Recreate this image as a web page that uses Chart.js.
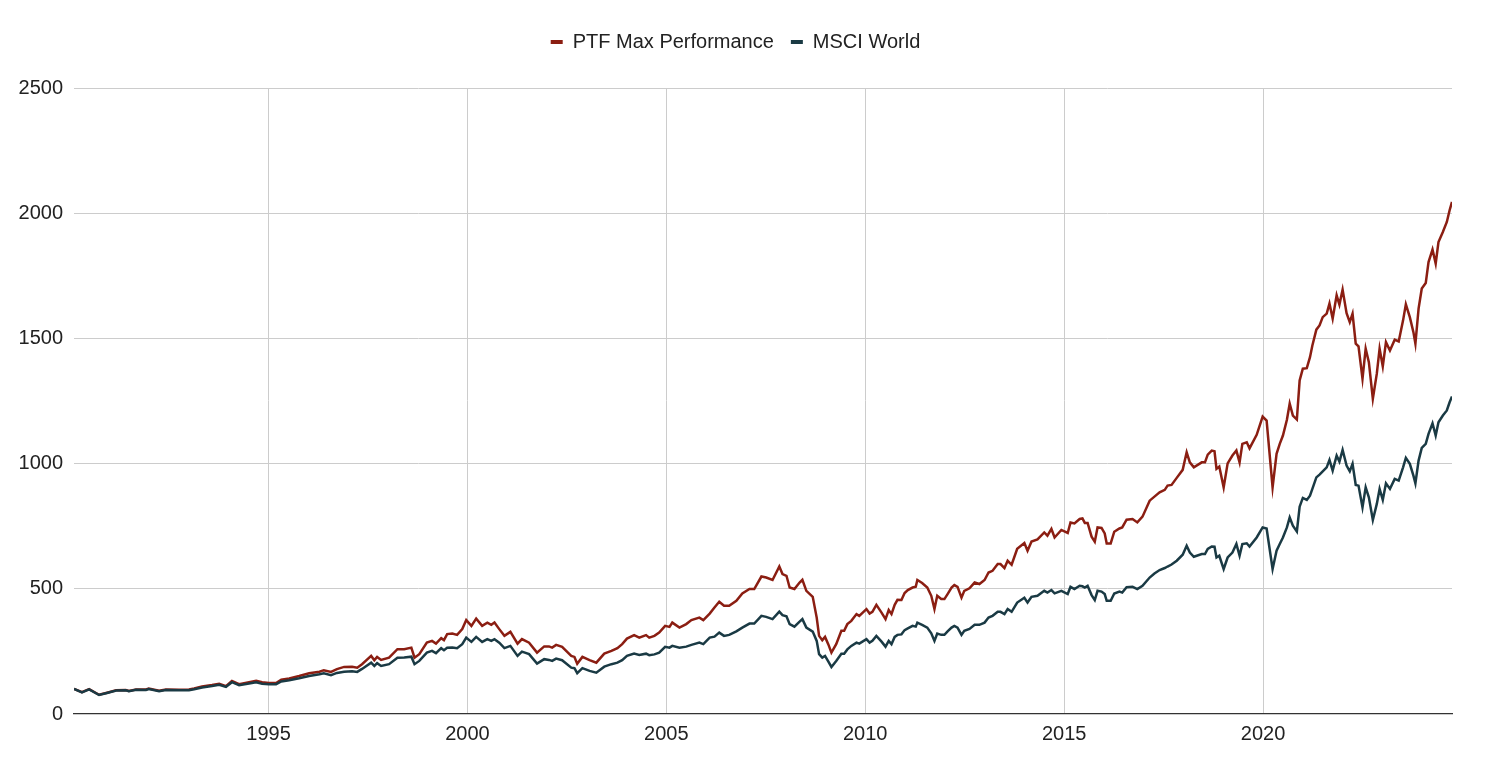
<!DOCTYPE html>
<html>
<head>
<meta charset="utf-8">
<title>PTF Max Performance vs MSCI World</title>
<script src="https://cdn.jsdelivr.net/npm/chart.js@4.4.1/dist/chart.umd.min.js"></script>
<style>
  html, body { margin: 0; padding: 0; background: #fff; }
  #wrap { width: 1487px; height: 762px; position: relative; }
</style>
</head>
<body>
<div id="wrap"><canvas id="perfChart"></canvas></div>
<script>
// Series labels and colours
const seriesNames = ['PTF Max Performance', 'MSCI World'];
const seriesColors = ['#8b1e12', '#1a3a44'];

// Dates as decimal years
const dates = [
  1990.11, 1990.31, 1990.49, 1990.74, 1990.94, 1991.17, 1991.41, 1991.49, 1991.67, 1991.92,
  1991.99, 1992.25, 1992.42, 1992.75, 1993.00, 1993.13, 1993.33, 1993.58, 1993.76, 1993.93,
  1994.08, 1994.26, 1994.51, 1994.69, 1994.84, 1995.01, 1995.19, 1995.32, 1995.52, 1995.77,
  1996.02, 1996.28, 1996.39, 1996.57, 1996.72, 1996.90, 1997.10, 1997.23, 1997.35, 1997.58,
  1997.66, 1997.73, 1997.83, 1998.03, 1998.24, 1998.41, 1998.59, 1998.67, 1998.79, 1998.98,
  1999.11, 1999.21, 1999.34, 1999.41, 1999.49, 1999.62, 1999.74, 1999.87, 1999.97, 2000.10,
  2000.22, 2000.37, 2000.50, 2000.60, 2000.68, 2000.80, 2000.93, 2001.08, 2001.26, 2001.37,
  2001.55, 2001.75, 2001.93, 2002.05, 2002.13, 2002.23, 2002.38, 2002.61, 2002.69, 2002.76,
  2002.89, 2003.07, 2003.24, 2003.44, 2003.62, 2003.77, 2003.89, 2004.01, 2004.19, 2004.32,
  2004.49, 2004.57, 2004.70, 2004.82, 2004.97, 2005.08, 2005.15, 2005.33, 2005.50, 2005.63,
  2005.83, 2005.93, 2006.09, 2006.21, 2006.33, 2006.45, 2006.58, 2006.76, 2006.91, 2007.09,
  2007.21, 2007.39, 2007.51, 2007.67, 2007.84, 2007.92, 2008.02, 2008.10, 2008.22, 2008.35,
  2008.42, 2008.52, 2008.68, 2008.78, 2008.84, 2008.92, 2008.99, 2009.07, 2009.15, 2009.27,
  2009.40, 2009.47, 2009.55, 2009.65, 2009.78, 2009.85, 2010.03, 2010.11, 2010.18, 2010.28,
  2010.41, 2010.51, 2010.59, 2010.66, 2010.74, 2010.81, 2010.91, 2010.99, 2011.07, 2011.19,
  2011.27, 2011.31, 2011.43, 2011.56, 2011.66, 2011.74, 2011.81, 2011.91, 2011.99, 2012.07,
  2012.17, 2012.24, 2012.32, 2012.42, 2012.49, 2012.62, 2012.75, 2012.87, 2013.00, 2013.10,
  2013.20, 2013.33, 2013.40, 2013.50, 2013.58, 2013.68, 2013.82, 2014.00, 2014.08, 2014.18,
  2014.33, 2014.50, 2014.58, 2014.68, 2014.76, 2014.93, 2015.09, 2015.16, 2015.26, 2015.39,
  2015.46, 2015.52, 2015.59, 2015.69, 2015.77, 2015.84, 2015.94, 2016.02, 2016.07, 2016.17,
  2016.26, 2016.39, 2016.46, 2016.57, 2016.72, 2016.84, 2016.97, 2017.15, 2017.27, 2017.40,
  2017.53, 2017.60, 2017.70, 2017.83, 2017.98, 2018.08, 2018.16, 2018.26, 2018.46, 2018.54,
  2018.61, 2018.71, 2018.78, 2018.83, 2018.90, 2019.01, 2019.11, 2019.23, 2019.33, 2019.41,
  2019.48, 2019.59, 2019.66, 2019.84, 2019.99, 2020.09, 2020.24, 2020.34, 2020.42, 2020.50,
  2020.60, 2020.67, 2020.75, 2020.85, 2020.92, 2021.00, 2021.10, 2021.18, 2021.24, 2021.34,
  2021.42, 2021.50, 2021.60, 2021.67, 2021.75, 2021.85, 2021.92, 2022.00, 2022.10, 2022.18,
  2022.25, 2022.33, 2022.40, 2022.50, 2022.58, 2022.66, 2022.76, 2022.86, 2022.93, 2023.01,
  2023.09, 2023.19, 2023.31, 2023.41, 2023.52, 2023.59, 2023.69, 2023.78, 2023.83, 2023.91,
  2023.99, 2024.09, 2024.16, 2024.26, 2024.34, 2024.41, 2024.52, 2024.62, 2024.69, 2024.75
];

// PTF Max Performance
const ptfValues = [
  100, 87, 99, 77, 85, 95, 96, 92, 98, 98,
  102, 93, 98, 97, 98, 102, 110, 116, 121, 111,
  132, 119, 127, 133, 127, 124, 124, 137, 142, 152,
  163, 169, 175, 168, 179, 188, 189, 185, 199, 232,
  215, 228, 216, 225, 259, 259, 265, 225, 239, 285,
  292, 281, 303, 295, 319, 321, 316, 339, 375, 352,
  381, 352, 365, 356, 365, 339, 312, 328, 281, 299,
  285, 245, 270, 270, 265, 276, 268, 232, 228, 201,
  228, 215, 205, 241, 252, 263, 279, 301, 315, 305,
  315, 305, 312, 325, 352, 348, 365, 345, 359, 375,
  385, 375, 401, 425, 448, 432, 432, 452, 481, 499,
  499, 549, 545, 535, 589, 559, 552, 505, 499, 525,
  536, 492, 468, 385, 312, 295, 308, 279, 245, 279,
  332, 332, 359, 372, 399, 392, 419, 401, 408, 436,
  405, 379, 415, 399, 436, 456, 455, 483, 495, 505,
  508, 535, 523, 505, 472, 419, 472, 459, 459, 479,
  505, 515, 508, 465, 492, 502, 525, 519, 535, 565,
  572, 599, 599, 583, 612, 596, 660, 683, 652, 689,
  697, 725, 712, 739, 705, 735, 723, 765, 761, 779,
  781, 763, 763, 708, 688, 745, 743, 721, 681, 681,
  728, 741, 745, 776, 779, 765, 788, 852, 868, 885,
  895, 912, 915, 943, 975, 1045, 1005, 985, 1005, 1005,
  1036, 1052, 1049, 979, 988, 905, 1001, 1032, 1052, 1005,
  1079, 1085, 1061, 1115, 1188, 1172, 905, 1039, 1079, 1112,
  1175, 1240, 1192, 1176, 1332, 1379, 1381, 1425, 1472, 1535,
  1552, 1585, 1599, 1639, 1579, 1672, 1635, 1695, 1601, 1565,
  1599, 1479, 1468, 1339, 1459, 1405, 1259, 1359, 1459, 1388,
  1485, 1452, 1495, 1488, 1572, 1636, 1585, 1525, 1479, 1619,
  1699, 1721, 1805, 1855, 1799, 1885, 1925, 1965, 2012, 2045
];

// MSCI World
const msciValues = [
  100, 86, 98, 76, 84, 94, 95, 91, 97, 96,
  100, 91, 96, 95, 95, 99, 106, 112, 117, 108,
  127, 115, 122, 127, 121, 119, 119, 130, 135, 143,
  152, 159, 163, 155, 164, 169, 171, 168, 180, 205,
  192, 203, 192, 199, 225, 226, 229, 199, 212, 245,
  252, 243, 263, 255, 265, 266, 263, 279, 305, 288,
  308, 288, 299, 292, 299, 285, 263, 272, 232, 249,
  239, 201, 219, 216, 212, 221, 215, 185, 183, 163,
  183, 172, 165, 189, 199, 205, 215, 232, 241, 236,
  241, 235, 238, 245, 268, 265, 272, 265, 269, 276,
  285, 279, 305, 309, 325, 312, 316, 330, 345, 361,
  361, 392, 388, 379, 409, 395, 390, 359, 349, 369,
  379, 345, 329, 292, 239, 225, 232, 210, 188, 212,
  241, 241, 258, 272, 285, 281, 299, 285, 292, 312,
  289, 269, 292, 279, 308, 316, 318, 335, 342, 352,
  349, 365, 356, 345, 322, 292, 321, 316, 316, 330,
  345, 352, 345, 316, 332, 340, 356, 356, 365, 385,
  392, 408, 408, 399, 419, 408, 445, 464, 445, 468,
  472, 492, 485, 495, 482, 492, 479, 508, 499, 512,
  510, 505, 512, 475, 455, 492, 489, 479, 452, 452,
  481, 489, 485, 506, 508, 499, 512, 545, 561, 575,
  583, 589, 597, 612, 636, 672, 645, 628, 639, 639,
  659, 669, 668, 625, 632, 579, 625, 645, 679, 632,
  679, 682, 669, 705, 745, 741, 579, 652, 679, 705,
  745, 785, 752, 729, 828, 863, 855, 872, 899, 945,
  956, 969, 985, 1015, 972, 1032, 1008, 1055, 992, 969,
  999, 915, 912, 825, 905, 865, 775, 839, 899, 855,
  921, 899, 939, 932, 985, 1023, 999, 952, 921, 1012,
  1063, 1079, 1119, 1161, 1112, 1165, 1192, 1212, 1245, 1268
];

// Axis ticks
const yearTicks = [1995, 2000, 2005, 2010, 2015, 2020];
const valueTicks = [0, 500, 1000, 1500, 2000, 2500];

const fontFamily = '"Liberation Sans", Arial, Helvetica, sans-serif';

// Build {x, y} points from the arrays
function toPoints(values) {
    return dates.map((d, i) => ({ x: d, y: values[i] }));
}

// Give the legend some extra room below it
const legendSpacer = {
    id: 'legendSpacer',
    beforeInit(chart) {
        const originalFit = chart.legend.fit;
        chart.legend.fit = function fit() {
            originalFit.bind(chart.legend)();
            this.height = 73;
        };
    }
};

const data = {
    datasets: [
        {
            label: seriesNames[0],
            data: toPoints(ptfValues),
            borderColor: seriesColors[0],
            backgroundColor: seriesColors[0],
            borderWidth: 2.5,
            pointRadius: 0,
            tension: 0,
            order: 1
        },
        {
            label: seriesNames[1],
            data: toPoints(msciValues),
            borderColor: seriesColors[1],
            backgroundColor: seriesColors[1],
            borderWidth: 2.5,
            pointRadius: 0,
            tension: 0,
            order: 0
        }
    ]
};

const config = {
    type: 'line',
    data: data,
    plugins: [legendSpacer],
    options: {
        animation: false,
        responsive: true,
        maintainAspectRatio: false,
        layout: {
            padding: { top: 15, left: 19, right: 35, bottom: 8 }
        },
        plugins: {
            legend: {
                position: 'top',
                align: 'center',
                labels: {
                    boxWidth: 12,
                    boxHeight: 4,
                    padding: 17,
                    color: '#222',
                    font: { size: 20, family: fontFamily },
                    sort: (a, b) => a.datasetIndex - b.datasetIndex,
                    generateLabels: (chart) =>
                        Chart.defaults.plugins.legend.labels.generateLabels(chart)
                            .map(item => ({ ...item, lineWidth: 0 }))
                }
            },
            tooltip: { enabled: false }
        },
        scales: {
            x: {
                type: 'linear',
                min: dates[0],
                max: dates[dates.length - 1],
                afterBuildTicks: (axis) => {
                    axis.ticks = yearTicks.map(v => ({ value: v }));
                },
                ticks: {
                    color: '#222',
                    padding: 8,
                    maxRotation: 0,
                    font: { size: 20, family: fontFamily },
                    callback: (value) => String(value)
                },
                grid: { color: '#cccccc', lineWidth: 1, drawTicks: false },
                border: { color: '#333333', width: 1.2 }
            },
            y: {
                min: valueTicks[0],
                max: valueTicks[valueTicks.length - 1],
                afterBuildTicks: (axis) => {
                    axis.ticks = valueTicks.map(v => ({ value: v }));
                },
                afterFit: (scale) => {
                    scale.width = 55;
                },
                ticks: {
                    color: '#222',
                    padding: 11,
                    font: { size: 20, family: fontFamily },
                    callback: (value) => String(value)
                },
                grid: {
                    color: (ctx) => (ctx.tick && ctx.tick.value === 0 ? 'rgba(0,0,0,0)' : '#cccccc'),
                    lineWidth: 1,
                    drawTicks: false
                },
                border: { display: false }
            }
        }
    }
};

new Chart(document.getElementById('perfChart'), config);
</script>
</body>
</html>
